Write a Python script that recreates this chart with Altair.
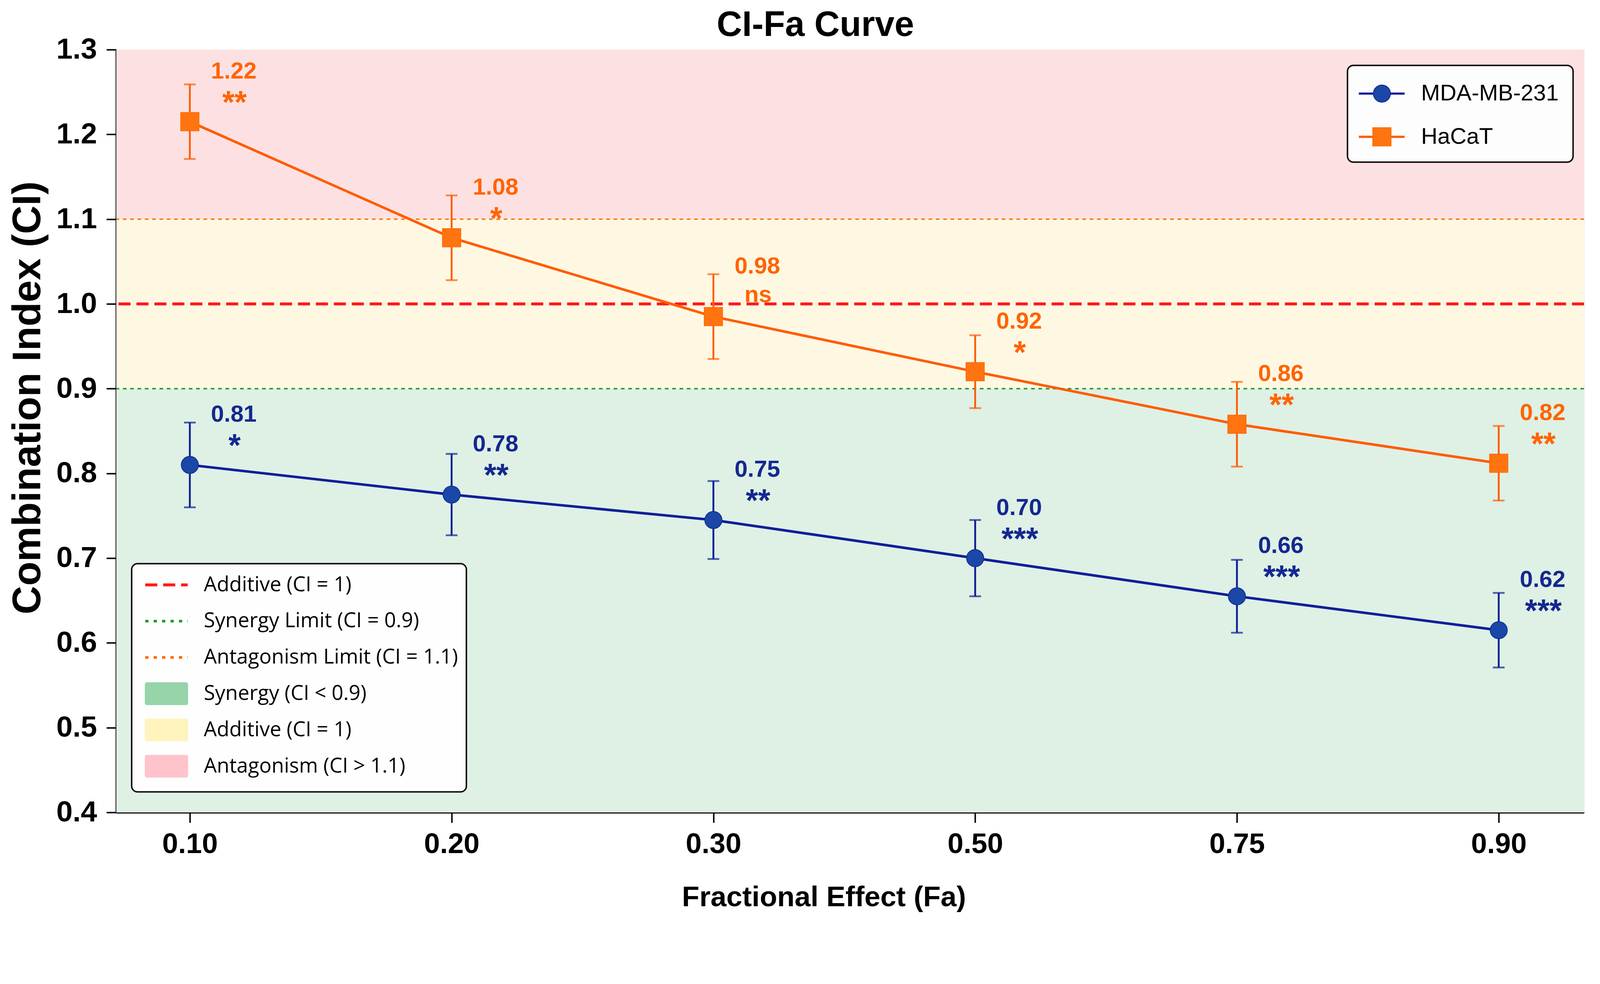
import json
import altair as alt
import pandas as pd

# ---------------- data ----------------
fa_labels = ["0.10", "0.20", "0.30", "0.50", "0.75", "0.90"]

mda_ci = [0.81, 0.775, 0.745, 0.700, 0.655, 0.615]
mda_err = [0.050, 0.048, 0.046, 0.045, 0.043, 0.044]
mda_text = ["0.81", "0.78", "0.75", "0.70", "0.66", "0.62"]
mda_sig = ["*", "**", "**", "***", "***", "***"]

hacat_ci = [1.215, 1.078, 0.985, 0.920, 0.858, 0.812]
hacat_err = [0.044, 0.050, 0.050, 0.043, 0.050, 0.044]
hacat_text = ["1.22", "1.08", "0.98", "0.92", "0.86", "0.82"]
hacat_sig = ["**", "*", "ns", "*", "**", "**"]

zone_names = ["Synergy (CI < 0.9)", "Additive (CI = 1)", "Antagonism (CI > 1.1)"]
zone_low = [0.4, 0.9, 1.1]
zone_high = [0.9, 1.1, 1.3]

ref_names = ["Additive (CI = 1)", "Synergy Limit (CI = 0.9)", "Antagonism Limit (CI = 1.1)"]
ref_values = [1.0, 0.9, 1.1]

series_names = ["MDA-MB-231", "HaCaT"]
y_ticks = [0.4, 0.5, 0.6, 0.7, 0.8, 0.9, 1.0, 1.1, 1.2, 1.3]
chart_title = "CI-Fa Curve"

# ---------------- style ----------------
W, H = 4008, 2082
FONT = "Liberation Sans, Arial, sans-serif"
LEG_FONT = "Open Sans, Noto Sans, sans-serif"
X_DOMAIN = [-0.281, 5.326]

zone_colors = ["#dff0e5", "#fef8e3", "#fde1e2"]
zone_swatch = ["#96d4aa", "#fff4bd", "#ffc3cc"]
ref_styles = [
    dict(color="#ff1a1a", strokeWidth=8, strokeDash=[33, 16]),
    dict(color="#1f9a2e", strokeWidth=4, strokeDash=[10, 10]),
    dict(color="#ff7a0a", strokeWidth=4, strokeDash=[10, 10]),
]
ref_legend_styles = [
    dict(color="#ff1a1a", strokeWidth=8, strokeDash=[33, 16]),
    dict(color="#1f9a2e", strokeWidth=7, strokeDash=[9, 14]),
    dict(color="#ff6a00", strokeWidth=7, strokeDash=[9, 14]),
]

series_style = {
    "MDA-MB-231": dict(line="#0e1f99", fill="#1a47a8", edge="#0b2a8a",
                       text="#14288f", shape="circle", size=2200),
    "HaCaT": dict(line="#ff5c00", fill="#ff7410", edge="#ff6a00",
                  text="#ff6400", shape="square", size=2500),
}

label_expr = json.dumps(fa_labels) + "[datum.value]"


def x_enc(field="idx"):
    return alt.X(
        f"{field}:Q",
        scale=alt.Scale(domain=X_DOMAIN, nice=False, zero=False),
        axis=alt.Axis(
            values=list(range(len(fa_labels))),
            labelExpr=label_expr,
            title="Fractional Effect (Fa)",
            titleFontSize=78, titleFontWeight="bold", titleColor="black",
            titleX=1932, titleY=256, titleBaseline="alphabetic", titleAlign="center",
            labelFontSize=78, labelFontWeight="bold", labelColor="black",
            labelPadding=20, labelFlush=False, labelOverlap=False,
            tickSize=28, tickWidth=4, tickColor="black",
            domainColor="black", domainWidth=5, grid=False,
        ),
    )


def y_enc(field):
    return alt.Y(
        f"{field}:Q",
        scale=alt.Scale(domain=[0.4, 1.3], nice=False, zero=False),
        axis=alt.Axis(
            values=y_ticks, format=".1f",
            title="Combination Index (CI)",
            titleFontSize=108, titleFontWeight="bold", titleColor="black",
            titleAngle=270, titleX=-208, titleY=950,
            titleBaseline="alphabetic", titleAlign="center",
            labelFontSize=80, labelFontWeight="bold", labelColor="black",
            labelPadding=26, labelFlush=False, labelOverlap=False,
            tickSize=27, tickWidth=4, tickColor="black",
            domainColor="black", domainWidth=5, grid=False,
        ),
    )


layers = []

# background zones
zones = pd.DataFrame({"zone": zone_names, "lo": zone_low, "hi": zone_high})
layers.append(
    alt.Chart(zones).mark_rect(opacity=1).encode(
        x=alt.value(0), x2=alt.value(W),
        y=y_enc("lo"), y2="hi:Q",
        color=alt.Color("zone:N", scale=alt.Scale(domain=zone_names, range=zone_colors), legend=None),
    )
)

# reference lines
for name, val, st in zip(ref_names, ref_values, ref_styles):
    df = pd.DataFrame({"name": [name], "ci": [val]})
    layers.append(alt.Chart(df).mark_rule(**st).encode(y=y_enc("ci")))

# series
series_data = [
    ("MDA-MB-231", mda_ci, mda_err, mda_text, mda_sig),
    ("HaCaT", hacat_ci, hacat_err, hacat_text, hacat_sig),
]
for name, ci, err, txt, sig in series_data:
    st = series_style[name]
    df = pd.DataFrame({
        "idx": list(range(len(ci))),
        "ci": ci,
        "lo": [c - e for c, e in zip(ci, err)],
        "hi": [c + e for c, e in zip(ci, err)],
        "txt": txt,
        "sig": sig,
    })
    base = alt.Chart(df)
    layers.append(base.mark_rule(color=st["line"], strokeWidth=5).encode(
        x=x_enc(), y=y_enc("lo"), y2="hi:Q"))
    for f in ["lo", "hi"]:
        layers.append(base.mark_tick(orient="horizontal", color=st["line"], size=32, thickness=5).encode(
            x=x_enc(), y=y_enc(f)))
    layers.append(base.mark_line(color=st["line"], strokeWidth=7).encode(
        x=x_enc(), y=y_enc("ci")))
    layers.append(base.mark_point(shape=st["shape"], size=st["size"], filled=True, fill=st["fill"],
                                  stroke=st["edge"], strokeWidth=2, opacity=1).encode(
        x=x_enc(), y=y_enc("ci")))
    layers.append(base.mark_text(font=FONT, fontSize=64, fontWeight="bold", color=st["text"],
                                 align="center", baseline="alphabetic", dx=120, dy=-118).encode(
        x=x_enc(), y=y_enc("ci"), text="txt:N"))
    layers.append(base.transform_filter("datum.sig != 'ns'").mark_text(
        font=FONT, fontSize=86, fontWeight="bold", color=st["text"],
        align="center", baseline="alphabetic", dx=122, dy=-24).encode(
        x=x_enc(), y=y_enc("ci"), text="sig:N"))
    layers.append(base.transform_filter("datum.sig == 'ns'").mark_text(
        font=FONT, fontSize=64, fontWeight="bold", color=st["text"],
        align="center", baseline="alphabetic", dx=122, dy=-40).encode(
        x=x_enc(), y=y_enc("ci"), text="sig:N"))

# ---------------- title and legends (decorations) ----------------
one = pd.DataFrame({"k": [0]})

layers.append(alt.Chart(one).mark_text(font=FONT, fontSize=96, fontWeight="bold", color="black",
                                       align="center", baseline="alphabetic").encode(
    x=alt.value(1909), y=alt.value(-37), text=alt.value(chart_title)))

# series legend, top right
layers.append(alt.Chart(one).mark_rect(fill="white", stroke="black", strokeWidth=4,
                                       cornerRadius=16, opacity=0.95).encode(
    x=alt.value(3362), x2=alt.value(3978), y=alt.value(43), y2=alt.value(307)))
for k, name in enumerate(series_names):
    st = series_style[name]
    yy = 120 + k * 118
    layers.append(alt.Chart(one).mark_rule(color=st["line"], strokeWidth=6).encode(
        x=alt.value(3393), x2=alt.value(3518), y=alt.value(yy)))
    layers.append(alt.Chart(one).mark_point(shape=st["shape"], size=st["size"], filled=True,
                                            fill=st["fill"], stroke=st["edge"], strokeWidth=2,
                                            opacity=1).encode(
        x=alt.value(3456), y=alt.value(yy)))
    layers.append(alt.Chart(one).mark_text(font=FONT, fontSize=62, color="black", align="left",
                                           baseline="middle").encode(
        x=alt.value(3563), y=alt.value(yy), text=alt.value(name)))

# zone legend, bottom left
layers.append(alt.Chart(one).mark_rect(fill="white", stroke="black", strokeWidth=4,
                                       cornerRadius=16, opacity=0.95).encode(
    x=alt.value(42), x2=alt.value(956), y=alt.value(1403), y2=alt.value(2026)))
leg_labels = ref_names + zone_names
for k, lab in enumerate(leg_labels):
    yy = 1461 + k * 99
    if k < 3:
        st = ref_legend_styles[k]
        layers.append(alt.Chart(one).mark_rule(**st).encode(
            x=alt.value(79), x2=alt.value(195), y=alt.value(yy)))
    else:
        col = zone_swatch[k - 3]
        layers.append(alt.Chart(one).mark_rect(fill=col, stroke=col, strokeWidth=2,
                                               cornerRadius=4, opacity=1).encode(
            x=alt.value(79), x2=alt.value(195), y=alt.value(yy - 30), y2=alt.value(yy + 30)))
    layers.append(alt.Chart(one).mark_text(font=LEG_FONT, fontSize=56, color="black", align="left",
                                           baseline="middle").encode(
        x=alt.value(239), y=alt.value(yy), text=alt.value(lab)))

chart = alt.layer(*layers).properties(
    width=W, height=H,
    autosize=alt.AutoSizeParams(type="none"),
    padding={"left": 309, "top": 49, "right": 35, "bottom": 208},
).configure_view(stroke="black", strokeWidth=5).configure(font=FONT)

chart.save("out.html", embed_options={"renderer": "svg", "actions": False})
